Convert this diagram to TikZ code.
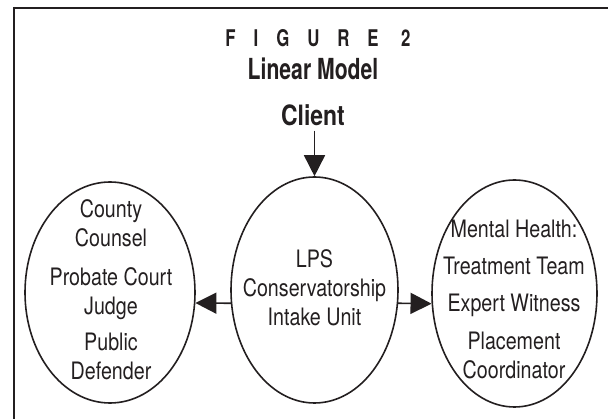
\documentclass[tikz,border=0pt]{standalone}
\usepackage{fontspec}
\setmainfont{TeX Gyre Heros}[FakeStretch=0.82]
\newfontfamily\headfont{TeX Gyre Heros}[FakeStretch=0.73]
\usepackage{tikz}
\usetikzlibrary{shapes.geometric,arrows.meta}
\definecolor{ink}{HTML}{231F20}

\begin{document}
\begin{tikzpicture}[x=1pt,y=-1pt,
        oval/.style={draw=ink, ellipse, line width=1.6pt, inner sep=0pt},
        body/.style={align=center, anchor=north, inner sep=0pt, text=ink, font=\fontsize{24}{29}\selectfont},
        head/.style={anchor=base, inner sep=0pt, text=ink},
        flow/.style={draw=ink, line width=1.6pt, -{Triangle[length=21pt,width=21pt]}}]
        \useasboundingbox (0,0) rectangle (608,419);
        \draw[ink, line width=2pt] (13,8) -- (608,8);
        \draw[ink, line width=1.2pt] (14,7) -- (14,419);
        \foreach \name/\x/\y/\w/\h in {court/110/292.5/170/221, lps/314.5/290/167/226, health/514.5/293.5/165/227}
            {\node[oval, minimum width=\w pt, minimum height=\h pt] (\name) at (\x,\y) {};}
        \node[head, font=\headfont\bfseries\fontsize{23}{23}\selectfont\addfontfeature{LetterSpace=78}] (fig) at (318,47) {FIGURE 2};
        \node[head, font=\headfont\bfseries\fontsize{29}{29}\selectfont] (title) at (313,80) {Linear Model};
        \node[head, font=\bfseries\fontsize{28}{28}\selectfont] (client) at (313,126) {Client};
        \node[body] (court-t) at (111,199) {County\\Counsel\\[10pt]Probate Court\\Judge\\[7pt]Public\\Defender};
        \node[body] (lps-t) at (314.5,249) {LPS\\Conservatorship\\Intake Unit};
        \node[body] (health-t) at (514,220) {Mental Health:\\[8pt]Treatment Team\\[8pt]Expert Witness\\[9pt]Placement\\Coordinator};
        \draw[flow, shorten <=4pt] (client.south -| lps.north) -- (lps.north);
        \draw[flow] (lps.189) -- (court.353);
        \draw[flow] (lps.351) -- (health.187);
\end{tikzpicture}
\end{document}
